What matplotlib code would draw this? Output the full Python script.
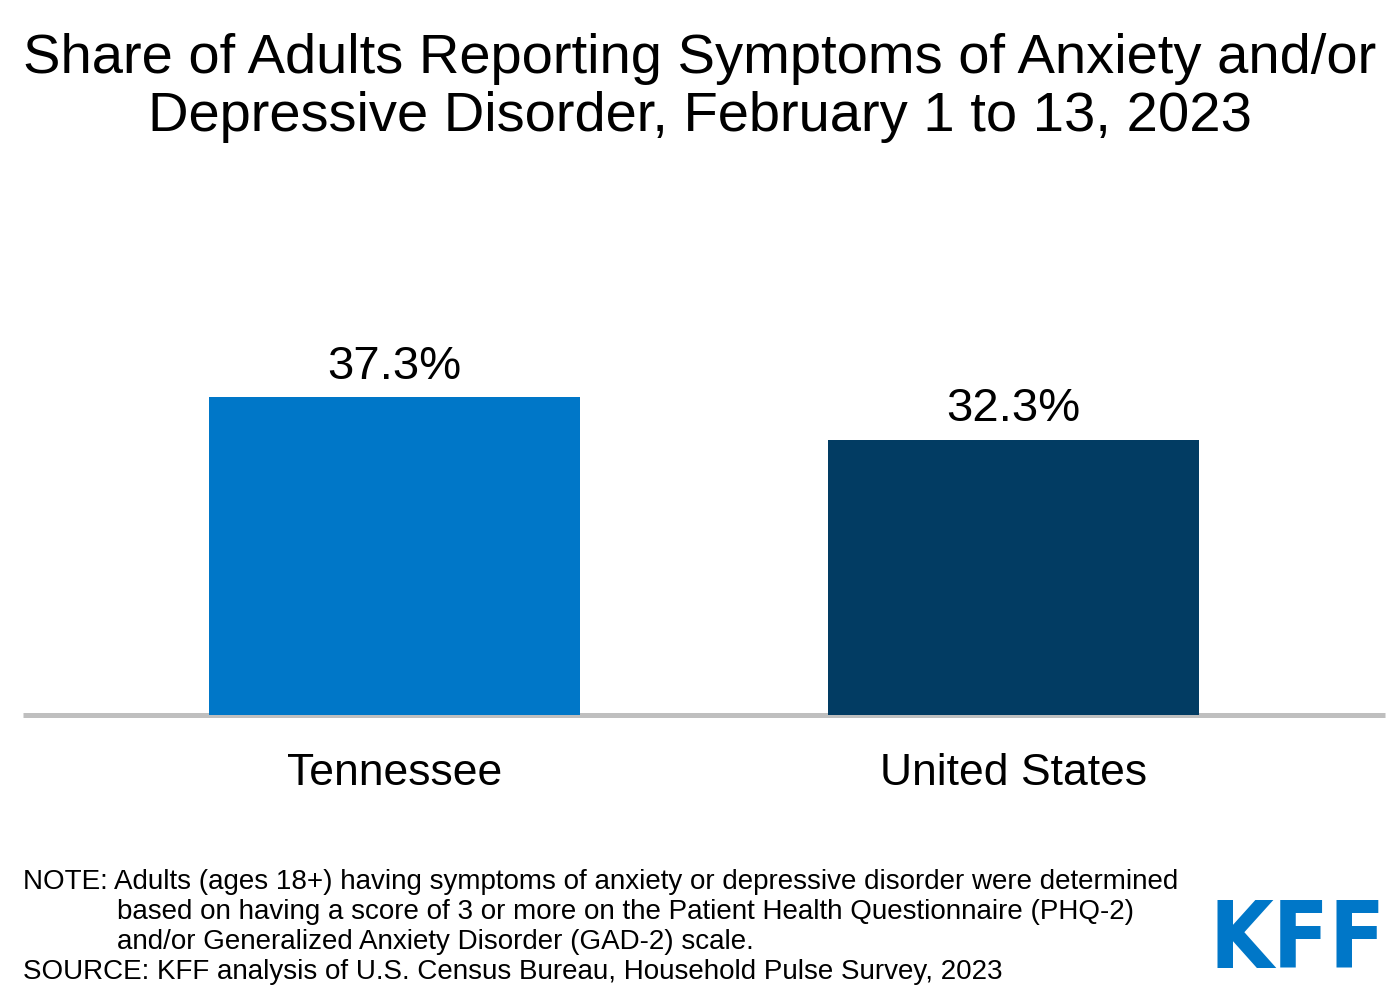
import matplotlib
matplotlib.use("Agg")
import matplotlib.pyplot as plt

categories = ["Tennessee", "United States"]
values = [37.3, 32.3]
value_labels = ["37.3%", "32.3%"]
bar_colors = ["#0077C8", "#023C63"]

title = "Share of Adults Reporting Symptoms of Anxiety and/or\nDepressive Disorder, February 1 to 13, 2023"
note_lines = [
    "NOTE: Adults (ages 18+) having symptoms of anxiety or depressive disorder were determined",
    "based on having a score of 3 or more on the Patient Health Questionnaire (PHQ-2)",
    "and/or Generalized Anxiety Disorder (GAD-2) scale.",
]
source_line = "SOURCE: KFF analysis of U.S. Census Bureau, Household Pulse Survey, 2023"

plt.rcParams['font.family'] = ['Liberation Sans', 'DejaVu Sans']

fig = plt.figure(figsize=(14, 10), dpi=100)
ax = fig.add_axes([23/1400, 0.2855, 1362/1400, 0.425])

x = list(range(len(categories)))
ax.bar(x, values, width=0.6, color=bar_colors, zorder=3)
ax.set_xlim(-0.6, 1.6)
ax.set_ylim(0, 50)
ax.axhline(0, color="#BFBFBF", linewidth=3.6, zorder=2, clip_on=False,
           solid_capstyle="butt")

for xi, v, lab in zip(x, values, value_labels):
    ax.text(xi, v + 1.0, lab, ha="center", va="bottom", fontsize=34, color="black")

ax.set_xticks(x)
ax.set_xticklabels(categories, fontsize=32)
ax.tick_params(axis="x", length=0, pad=28)
ax.set_yticks([])
for s in ax.spines.values():
    s.set_visible(False)

fig.text(0.5, 0.967, title, ha="center", va="top", fontsize=40.4, linespacing=1.16)

y0 = 0.118
dy = 0.030
fs = 20
fig.text(23/1400, y0, note_lines[0], ha="left", va="center", fontsize=fs)
fig.text(117/1400, y0 - dy, note_lines[1], ha="left", va="center", fontsize=fs)
fig.text(117/1400, y0 - 2*dy, note_lines[2], ha="left", va="center", fontsize=fs)
fig.text(23/1400, y0 - 3*dy, source_line, ha="left", va="center", fontsize=fs)

fig.text(1298/1400, 1 - 942/1000, "KFF", ha="center", va="center", fontsize=66,
         fontweight="bold", fontstretch="condensed", color="#0077C8",
         family=["DejaVu Sans"])

fig.savefig("out.png", dpi=100, facecolor="white")
